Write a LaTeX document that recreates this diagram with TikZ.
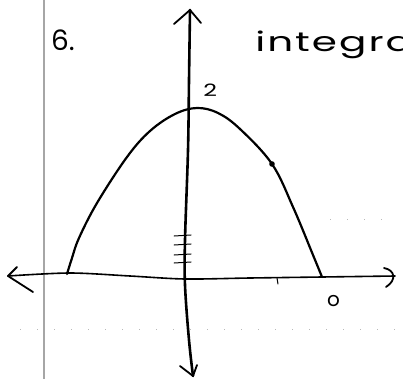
\documentclass[tikz,border=0pt]{standalone}
\usepackage{fontspec}
\setmainfont{Poppins}
\begin{document}
\begin{tikzpicture}[x=1pt,y=-1pt,
  axisline/.style={line width=2.6pt,line cap=round,line join=round},
  haxis/.style={line width=1.6pt,line cap=round,line join=round},
  curveline/.style={line width=2.2pt,line cap=round,line join=round},
  tip/.style={line width=1.8pt,line cap=round,line join=round},
  tickline/.style={line width=1pt,line cap=round},
  faint/.style={gray!55,line width=0.9pt,dash pattern=on 1pt off 16pt},
  margin/.style={gray!70,line width=1.6pt},
  hand/.style={inner sep=0pt,anchor=base west}]
\useasboundingbox (0,0) rectangle (403,379);
\clip (0,0) rectangle (403,379);
\fill[white] (0,0) rectangle (403,379);
% margin line and faint dotted rulings
\draw[margin] (44,0) -- (44,379);
\draw[faint] (20,329) -- (403,329);
\draw[faint] (330,219) -- (395,219);
% labels
\node[hand,font=\fontsize{28}{30}\selectfont] (six) at (51,51) {6.};
\node[hand,font=\fontsize{27}{28}\selectfont\addfontfeatures{LetterSpace=5},xscale=1.5] (title) at (255,52) {integra};
\node[hand,font=\fontsize{17}{18}\selectfont,xscale=1.4] (two) at (203,97) {2};
\node[hand,font=\fontsize{20}{22}\selectfont] (zero) at (327,306) {o};
% coordinates
\coordinate (ytop) at (190,10);
\coordinate (ybot) at (193,376);
\coordinate (xleft) at (8,276);
\coordinate (xright) at (395,276);
\coordinate (apex) at (197,108);
\coordinate (pl) at (67,274);
\coordinate (pr) at (322,277);
\coordinate (pdot) at (272,164);
% vertical axis
\draw[axisline] plot[smooth,tension=0.6] coordinates {(ytop) (189,80) (188,150) (185,240) (185,285) (189,340) (ybot)};
\draw[tip] (174,24) -- (ytop) -- (201,23);
\draw[tip] (180,366) -- (ybot) -- (197,365);
% horizontal axis
\draw[haxis] plot[smooth,tension=0.5] coordinates {(xleft) (70,273) (130,276) (185,279) (250,278) (pr) (xright)};
\draw[tip] (17,267) -- (xleft) -- (33,292);
\draw[tip] (384,268) .. controls (395,270) and (397,280) .. (386,287);
\draw[tickline] (277,278) -- (278,284);
% tick marks on y axis
\foreach \yy in {236,245,255,263} \draw[tickline] (174,\yy) -- (191,\yy-1);
% parabola
\draw[curveline] plot[smooth,tension=0.6] coordinates {(pl) (72,258) (79,238) (97,203) (127,157) (150,131) (175,114) (apex) (218,113) (240,129) (pdot) (293,207) (313,255) (pr)};
\fill (pdot) circle (2.8pt);
\end{tikzpicture}
\end{document}
